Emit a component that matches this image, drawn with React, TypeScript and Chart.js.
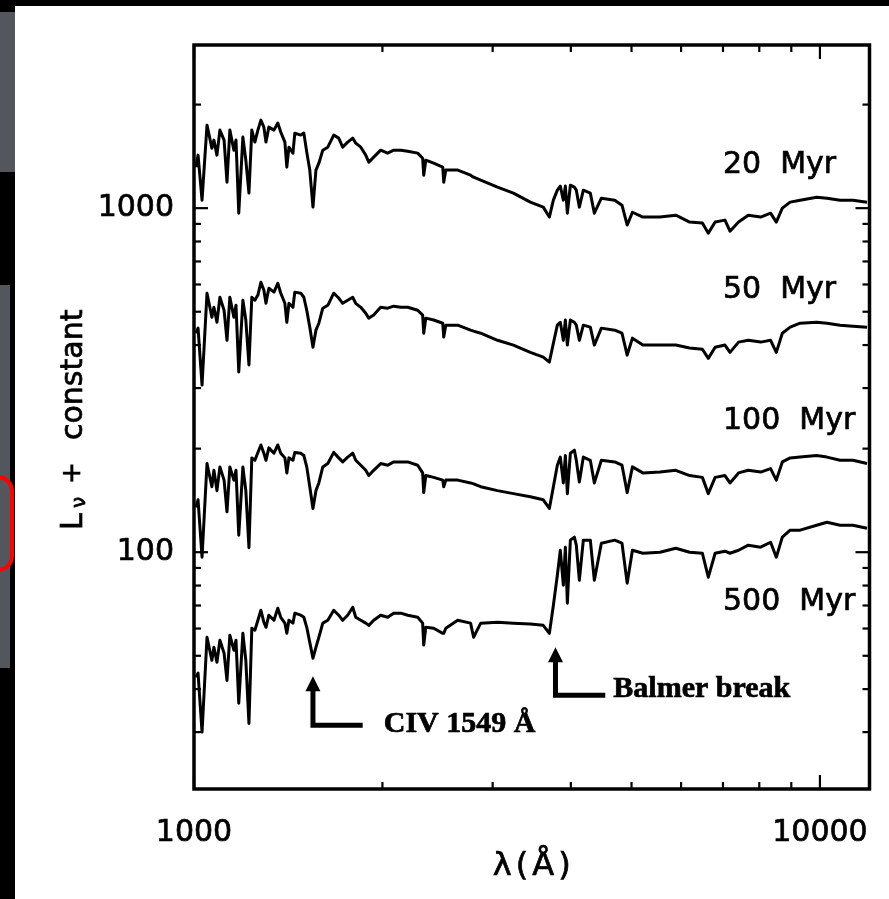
import { useEffect, useRef } from 'react';
import { Chart, registerables } from 'chart.js';

Chart.register(...registerables);

// ---------- DATA ----------
const wavelengths = [
  1007, 1015, 1030, 1049, 1068, 1076, 1088, 1100, 1117, 1129,
  1141, 1158, 1167, 1179, 1197, 1210, 1224, 1237, 1251, 1265,
  1279, 1293, 1303, 1317, 1342, 1361, 1376, 1397, 1407, 1418,
  1439, 1449, 1481, 1498, 1514, 1531, 1549, 1566, 1583, 1606,
  1636, 1672, 1703, 1728, 1760, 1793, 1813, 1847, 1881, 1902,
  1937, 1987, 2039, 2085, 2140, 2195, 2277, 2319, 2328, 2346,
  2415, 2497, 2506, 2525, 2638, 2766, 2797, 2871, 3054, 3238,
  3446, 3614, 3696, 3751, 3806, 3848, 3891, 3920, 3949, 3993,
  4052, 4081, 4127, 4188, 4297, 4361, 4475, 4701, 4828, 4921,
  5017, 5213, 5552, 5884, 6192, 6489, 6632, 6801, 7051, 7183,
  7413, 7683, 8040, 8340, 8517, 8708, 8963, 9297, 9880, 10260,
  10770, 11290, 11890,
];

const flux20Myr = [
  1316, 1426, 1055, 1743, 1494, 1577, 1426, 1686, 1577, 1190,
  1686, 1474, 1577, 967, 1609, 1379, 1106, 1686, 1556, 1686,
  1803, 1720, 1556, 1720, 1686, 1767, 1664, 1556, 1316, 1504,
  1445, 1652, 1631, 1652, 1455, 1290, 1007, 1290, 1351, 1474,
  1504, 1631, 1598, 1504, 1556, 1598, 1545, 1504, 1426, 1360,
  1407, 1474, 1445, 1474, 1474, 1464, 1445, 1397, 1247, 1379,
  1351, 1316, 1190, 1290, 1290, 1247, 1230, 1206, 1151, 1106,
  1041, 1007, 942, 1055, 1128, 1159, 1055, 1159, 967, 1166,
  1151, 1128, 1007, 1128, 1106, 967, 1069, 1055, 1020, 893,
  973, 942, 942, 954, 911, 905, 846, 911, 923, 857,
  911, 954, 942, 967, 911, 1000, 1041, 1055, 1076, 1069,
  1055, 1055, 1041,
];

const flux50Myr = [
  433, 448, 306, 566, 482, 515, 466, 551, 505, 413,
  551, 482, 522, 334, 540, 473, 350, 551, 540, 559,
  609, 578, 529, 585, 570, 605, 566, 529, 466, 529,
  515, 570, 566, 551, 505, 451, 394, 442, 463, 512,
  522, 566, 548, 529, 540, 551, 529, 515, 495, 479,
  489, 515, 512, 519, 515, 515, 505, 489, 433, 479,
  473, 463, 422, 457, 457, 442, 439, 433, 413, 400,
  381, 369, 357, 405, 457, 466, 413, 473, 400, 473,
  466, 457, 413, 457, 451, 400, 448, 442, 433, 374,
  419, 400, 400, 400, 392, 389, 366, 394, 400, 381,
  408, 413, 408, 413, 381, 433, 451, 463, 466, 463,
  457, 454, 451,
];

const flux100Myr = [
  135, 142, 96.7, 181, 155, 173, 151, 177, 162, 131,
  177, 162, 173, 112, 177, 151, 103, 188, 185, 195,
  205, 194, 185, 201, 194, 205, 194, 188, 170, 188,
  185, 195, 194, 191, 177, 155, 134, 151, 159, 177,
  181, 195, 188, 183, 189, 194, 185, 179, 173, 167,
  173, 181, 179, 183, 183, 183, 179, 170, 149, 167,
  165, 162, 155, 162, 162, 159, 158, 155, 151, 148,
  145, 142, 134, 155, 179, 189, 159, 191, 148, 194,
  198, 185, 160, 189, 185, 159, 185, 183, 179, 149,
  177, 170, 171, 173, 167, 165, 148, 165, 167, 159,
  170, 173, 171, 175, 162, 183, 188, 189, 191, 189,
  185, 185, 181,
];

const flux500Myr = [
  43.3, 44.5, 30.0, 56.6, 48.5, 52.9, 47.9, 55.5, 50.9, 42.4,
  57.4, 51.9, 55.5, 36.4, 58.1, 48.5, 31.8, 60.1, 59.3, 63.4,
  67.8, 62.6, 60.5, 65.6, 63.4, 68.7, 64.7, 62.2, 58.1, 63.4,
  62.2, 66.5, 65.6, 64.7, 60.5, 54.7, 49.2, 52.9, 56.6, 62.2,
  63.4, 67.8, 65.6, 63.4, 65.6, 69.2, 64.7, 63.4, 62.2, 61.3,
  63.4, 65.6, 64.7, 66.5, 66.5, 65.6, 64.7, 62.2, 53.7, 60.5,
  60.1, 58.1, 58.1, 60.1, 63.4, 62.2, 56.6, 62.2, 62.6, 62.2,
  61.8, 61.3, 58.1, 70.1, 85.7, 101.3, 80.2, 103.4, 71.1, 108.4,
  110.6, 104.8, 82.9, 108.4, 108.4, 82.9, 106.2, 108.4, 106.2, 81.3,
  101.3, 99.3, 100, 102.7, 100, 99.3, 84.6, 99.3, 100.7, 99.3,
  101.3, 104.8, 103.4, 106.9, 96.7, 110.6, 115.9, 115.9, 119.8, 122.2,
  119.8, 119.8, 117.4,
];

const seriesNames = ['20  Myr', '50  Myr', '100  Myr', '500  Myr'];
const seriesLabelLevels = [1334, 578, 240, 71.5];
const seriesLabelLambda = 7000;

const xMajorTicks = [1000, 10000];
const xMinorTicks = [2000, 3000, 4000, 5000, 6000, 7000, 8000, 9000];
const yMajorTicks = [100, 1000];
const yMinorTicks = [30, 40, 50, 60, 70, 80, 90, 200, 300, 400, 500, 600, 700, 800, 900, 2000];

const xRange = [1000, 12000];
const yRange = [20.5, 2980];

const xTitle = 'λ(Å)';
const civText = 'CIV 1549 Å';
const balmerText = 'Balmer break';

// ---------- LAYOUT ----------
const W = 889;
const H = 899;
const FONT = "'DejaVu Sans'";
const TEXT_STROKE = 0.7;

function drawArrow(ctx: CanvasRenderingContext2D, x: number, yTip: number, yCorner: number, xEnd: number) {
  ctx.save();
  ctx.strokeStyle = '#000';
  ctx.fillStyle = '#000';
  ctx.lineWidth = 5;
  ctx.lineJoin = 'miter';
  ctx.beginPath();
  ctx.moveTo(x, yTip + 10);
  ctx.lineTo(x, yCorner);
  ctx.lineTo(xEnd, yCorner);
  ctx.stroke();
  ctx.beginPath();
  ctx.moveTo(x, yTip);
  ctx.lineTo(x - 7.5, yTip + 15);
  ctx.lineTo(x + 7.5, yTip + 15);
  ctx.closePath();
  ctx.fill();
  ctx.restore();
}

function heavyText(ctx: CanvasRenderingContext2D, t: string, x: number, y: number) {
  ctx.fillText(t, x, y);
  ctx.lineWidth = TEXT_STROKE;
  ctx.strokeText(t, x, y);
}

const decorPlugin = {
  id: 'decor',
  beforeDraw(chart: any) {
    const ctx = chart.ctx as CanvasRenderingContext2D;
    ctx.save();
    ctx.fillStyle = '#000';
    ctx.fillRect(0, 0, W, H);
    ctx.fillStyle = '#fff';
    ctx.fillRect(15, 6, W - 15, H - 6);
    ctx.fillStyle = '#53565d';
    ctx.fillRect(0, 12, 15, 160);
    ctx.fillRect(0, 285, 10, 383);
    ctx.strokeStyle = '#ff0000';
    ctx.lineWidth = 4;
    ctx.beginPath();
    (ctx as any).roundRect(-20, 477, 32, 93, 14);
    ctx.stroke();
    ctx.restore();
  },
  afterDraw(chart: any) {
    const ctx = chart.ctx as CanvasRenderingContext2D;
    const a = chart.chartArea;
    const xs = chart.scales.x;
    const ys = chart.scales.y;
    ctx.save();
    ctx.strokeStyle = '#000';
    ctx.fillStyle = '#000';

    // tick marks (inward, on all four sides)
    ctx.lineWidth = 2.2;
    const seg = (x1: number, y1: number, x2: number, y2: number) => {
      ctx.beginPath();
      ctx.moveTo(x1, y1);
      ctx.lineTo(x2, y2);
      ctx.stroke();
    };
    const xt = (v: number, len: number) => {
      const p = xs.getPixelForValue(v);
      seg(p, a.bottom, p, a.bottom - len);
      seg(p, a.top, p, a.top + len);
    };
    const yt = (v: number, len: number) => {
      const p = ys.getPixelForValue(v);
      seg(a.left, p, a.left + len, p);
      seg(a.right, p, a.right - len, p);
    };
    xMajorTicks.forEach((v) => xt(v, 14));
    xMinorTicks.forEach((v) => xt(v, 7));
    yMajorTicks.forEach((v) => yt(v, 14));
    yMinorTicks.forEach((v) => yt(v, 7));

    // frame
    ctx.lineWidth = 3.5;
    ctx.strokeRect(a.left, a.top, a.right - a.left, a.bottom - a.top);

    // series labels
    ctx.font = `30px ${FONT}`;
    ctx.textAlign = 'left';
    ctx.textBaseline = 'middle';
    seriesNames.forEach((name, i) => {
      heavyText(ctx, name, xs.getPixelForValue(seriesLabelLambda), ys.getPixelForValue(seriesLabelLevels[i]));
    });

    // annotations
    drawArrow(ctx, xs.getPixelForValue(1549), ys.getPixelForValue(43.6), ys.getPixelForValue(31.4), xs.getPixelForValue(1860));
    drawArrow(ctx, xs.getPixelForValue(3780), ys.getPixelForValue(52.9), ys.getPixelForValue(38.4), xs.getPixelForValue(4540));
    ctx.font = `bold 30px 'Liberation Serif'`;
    ctx.textBaseline = 'alphabetic';
    ctx.textAlign = 'left';
    heavyText(ctx, civText, xs.getPixelForValue(2010), ys.getPixelForValue(30.0));
    heavyText(ctx, balmerText, xs.getPixelForValue(4677), ys.getPixelForValue(37.9));

    // x title
    ctx.font = `32px ${FONT}`;
    ctx.textAlign = 'center';
    ctx.textBaseline = 'middle';
    (ctx as any).letterSpacing = '4px';
    heavyText(ctx, xTitle, (a.left + a.right) / 2 + 2, 867);
    (ctx as any).letterSpacing = '0px';

    // y title: L_nu + constant (rotated)
    ctx.translate(82, 530);
    ctx.rotate(-Math.PI / 2);
    ctx.textAlign = 'left';
    ctx.textBaseline = 'alphabetic';
    ctx.font = `30px ${FONT}`;
    heavyText(ctx, 'L', 0, 0);
    ctx.font = `20px ${FONT}`;
    heavyText(ctx, 'ν', 22, 3);
    ctx.font = `26px ${FONT}`;
    heavyText(ctx, '+', 46, -2);
    ctx.font = `30px ${FONT}`;
    heavyText(ctx, 'constant', 90, 0);
    ctx.restore();
  },
};

export default function App() {
  const ref = useRef<HTMLCanvasElement | null>(null);

  useEffect(() => {
    if (!ref.current) return;
    const series = [flux20Myr, flux50Myr, flux100Myr, flux500Myr];
    const tickFont = { family: FONT, size: 30 };
    const chart = new Chart(ref.current, {
      type: 'line',
      data: {
        datasets: series.map((vals, i) => ({
          label: seriesNames[i],
          data: wavelengths.map((w, j) => ({ x: w, y: vals[j] })),
          borderColor: '#000',
          backgroundColor: '#000',
          borderWidth: 3,
          borderJoinStyle: 'round',
          pointRadius: 0,
          tension: 0,
          fill: false,
        })),
      },
      options: {
        responsive: false,
        animation: false,
        events: [],
        layout: { padding: { left: 0, top: 45, right: 19.5, bottom: 0 } },
        plugins: {
          legend: { display: false },
          tooltip: { enabled: false },
          title: { display: false },
        },
        scales: {
          x: {
            type: 'logarithmic',
            min: xRange[0],
            max: xRange[1],
            grid: { display: false },
            border: { display: false },
            afterBuildTicks: (s: any) => {
              s.ticks = xMajorTicks.map((v) => ({ value: v }));
            },
            afterFit: (s: any) => {
              s.height = 110;
            },
            ticks: {
              font: tickFont,
              color: '#000',
              textStrokeColor: '#000',
              textStrokeWidth: TEXT_STROKE,
              padding: 18,
              maxRotation: 0,
              autoSkip: false,
              callback: (v: any) => String(v),
            },
          },
          y: {
            type: 'logarithmic',
            min: yRange[0],
            max: yRange[1],
            grid: { display: false },
            border: { display: false },
            afterBuildTicks: (s: any) => {
              s.ticks = yMajorTicks.map((v) => ({ value: v }));
            },
            afterFit: (s: any) => {
              s.width = 194;
            },
            ticks: {
              font: tickFont,
              color: '#000',
              textStrokeColor: '#000',
              textStrokeWidth: TEXT_STROKE,
              padding: 12,
              autoSkip: false,
              callback: (v: any) => String(v),
            },
          },
        },
      } as any,
      plugins: [decorPlugin],
    });
    return () => chart.destroy();
  }, []);

  return (
    <div style={{ position: 'fixed', left: 0, top: 0, width: W, height: H }}>
      <canvas ref={ref} width={W} height={H} style={{ display: 'block', width: W, height: H }} />
    </div>
  );
}
